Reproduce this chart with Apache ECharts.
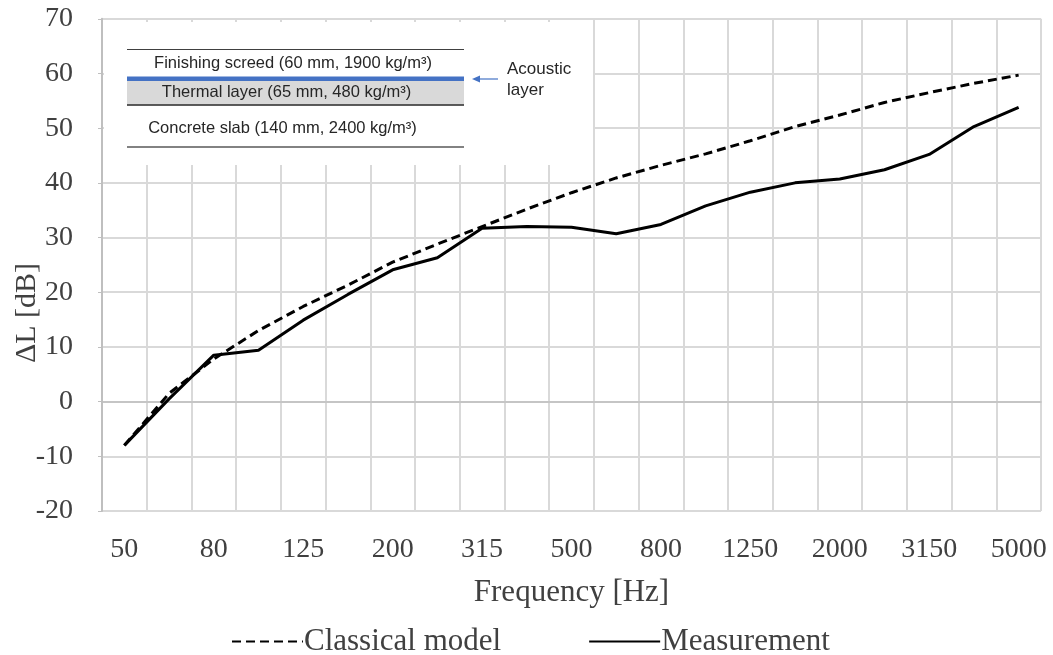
<!doctype html>
<html>
<head>
<meta charset="UTF-8">
<title>ΔL vs frequency</title>
<script src="https://cdn.jsdelivr.net/npm/echarts@6/dist/echarts.min.js"></script>
<style>
  html, body { margin: 0; padding: 0; background: #fff; }
  #chart { width: 1053px; height: 655px; }
</style>
</head>
<body>
<div id="chart"></div>
<script>
// third-octave bands
var bands = ['50', '63', '80', '100', '125', '160', '200', '250', '315', '400', '500',
  '630', '800', '1000', '1250', '1600', '2000', '2500', '3150', '4000', '5000'];
var classical = [-8.0, 1.5, 7.8, 13.0, 17.4, 21.3, 25.5, 28.8, 32.0, 35.2, 38.2,
  40.9, 43.2, 45.3, 47.7, 50.3, 52.4, 54.7, 56.5, 58.2, 59.7];
var measured = [-8.0, 0.5, 8.5, 9.4, 14.9, 19.6, 24.1, 26.3, 31.7, 32.0, 31.9,
  30.7, 32.4, 35.8, 38.3, 40.0, 40.7, 42.4, 45.2, 50.3, 53.8];
var seriesNames = ['Classical model', 'Measurement'];

var serif = 'Liberation Serif';
var sans = 'Liberation Sans';
var txt = '#404040';

var chart = echarts.init(document.getElementById('chart'));

// little floor build-up sketch in the top left corner
var insetLeft = 127, insetRight = 464;
var inset = [
  { type: 'rect', shape: { x: 104, y: 22, width: 489, height: 143 }, style: { fill: '#fff' } },
  { type: 'line', shape: { x1: insetLeft, y1: 49.5, x2: insetRight, y2: 49.5 }, style: { stroke: '#404040', lineWidth: 1 } },
  { type: 'text', x: 293, y: 63, style: { text: 'Finishing screed (60 mm, 1900 kg/m³)', font: '16.5px ' + sans, fill: '#262626', align: 'center', verticalAlign: 'middle' } },
  { type: 'rect', shape: { x: insetLeft, y: 81, width: insetRight - insetLeft, height: 23.5 }, style: { fill: '#d9d9d9' } },
  { type: 'rect', shape: { x: insetLeft, y: 76.5, width: insetRight - insetLeft, height: 4.5 }, style: { fill: '#4472c4' } },
  { type: 'line', shape: { x1: insetLeft, y1: 105, x2: insetRight, y2: 105 }, style: { stroke: '#262626', lineWidth: 1.5 } },
  { type: 'text', x: 286.5, y: 92, style: { text: 'Thermal layer (65 mm, 480 kg/m³)', font: '16.5px ' + sans, fill: '#262626', align: 'center', verticalAlign: 'middle' } },
  { type: 'text', x: 282.5, y: 128, style: { text: 'Concrete slab (140 mm, 2400 kg/m³)', font: '16.5px ' + sans, fill: '#262626', align: 'center', verticalAlign: 'middle' } },
  { type: 'line', shape: { x1: insetLeft, y1: 147, x2: insetRight, y2: 147 }, style: { stroke: '#595959', lineWidth: 1.5 } },
  { type: 'line', shape: { x1: 477, y1: 79, x2: 498, y2: 79 }, style: { stroke: '#4472c4', lineWidth: 1.2 } },
  { type: 'polygon', shape: { points: [[472, 79], [480, 75.5], [480, 82.5]] }, style: { fill: '#4472c4' } },
  { type: 'text', x: 507, y: 69, style: { text: 'Acoustic', font: '17px ' + sans, fill: '#262626', verticalAlign: 'middle' } },
  { type: 'text', x: 507, y: 90, style: { text: 'layer', font: '17px ' + sans, fill: '#262626', verticalAlign: 'middle' } },
  // y axis title, placed by hand like in the original (a bit below the middle)
  { type: 'text', x: 27, y: 313, rotation: Math.PI / 2, style: { text: 'ΔL [dB]', font: '30px ' + serif, fill: txt, align: 'center', verticalAlign: 'middle' } }
];
inset.forEach(function (g) { g.z = 10; });

var option = {
  backgroundColor: '#fff',
  animation: false,
  grid: { left: 102, right: 12, top: 18.8, bottom: 144, outerBoundsMode: 'none', containLabel: false },
  legend: {
    left: 226,
    top: 621,
    itemWidth: 71,
    itemHeight: 14,
    itemGap: 87,
    data: seriesNames,
    itemStyle: { opacity: 0 },
    textStyle: { fontFamily: serif, fontSize: 31, color: txt, padding: [0, 0, 0, -4] }
  },
  xAxis: {
    type: 'category',
    data: bands,
    boundaryGap: true,
    name: 'Frequency [Hz]',
    nameLocation: 'middle',
    nameGap: 66,
    nameTextStyle: { fontFamily: serif, fontSize: 31, color: txt },
    axisLine: { lineStyle: { color: '#bfbfbf', width: 1.5 } },
    axisTick: { show: false, interval: 0 },
    axisLabel: { interval: 1, margin: 25, fontFamily: serif, fontSize: 28, color: txt },
    splitLine: { show: true, interval: 0, lineStyle: { color: '#d9d9d9', width: 2 } }
  },
  yAxis: {
    type: 'value',
    min: -20,
    max: 70,
    interval: 10,
    axisLine: { show: true, lineStyle: { color: '#bfbfbf', width: 2 } },
    axisTick: { show: true, length: 4, lineStyle: { color: '#bfbfbf' } },
    axisLabel: { margin: 29, fontFamily: serif, fontSize: 28, color: txt },
    splitLine: { lineStyle: { color: '#d9d9d9', width: 2 } }
  },
  series: [
    {
      name: seriesNames[0],
      type: 'line',
      data: classical,
      symbol: 'none',
      color: '#000',
      lineStyle: { color: '#000', width: 3, type: [9, 5] }
    },
    {
      name: seriesNames[1],
      type: 'line',
      data: measured,
      symbol: 'none',
      color: '#000',
      lineStyle: { color: '#000', width: 3, type: 'solid' }
    }
  ],
  graphic: inset
};
chart.setOption(option);
</script>
</body>
</html>
